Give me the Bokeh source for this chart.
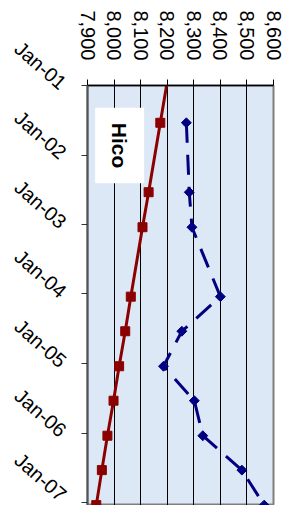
import numpy as np
import pandas as pd
from bokeh.plotting import figure
from bokeh.models import (Range1d, FixedTicker, NumeralTickFormatter,
                          DatetimeTickFormatter, Label, ColumnDataSource)
from bokeh.embed import file_html
from bokeh.resources import INLINE

# ---- data ----
dates = ["2000-07-15", "2001-07-15", "2002-07-15", "2003-01-15", "2004-01-15",
         "2004-07-15", "2005-01-15", "2005-07-15", "2006-01-15", "2006-07-15",
         "2007-01-15"]
red_series = [8218, 8174, 8130, 8107, 8063, 8042, 8019, 7998, 7975, 7954, 7933]
blue_series = [np.nan, 8272, 8283, 8293, 8400, 8255, 8186, 8302, 8334, 8481, 8565]
tick_dates = ["2001-01-01", "2002-01-01", "2003-01-01", "2004-01-01",
              "2005-01-01", "2006-01-01", "2007-01-01"]
value_ticks = [7900, 8000, 8100, 8200, 8300, 8400, 8500, 8600]
title_text = "Hico"


def to_ms(s):
    return pd.Timestamp(s).value / 1e6


src = ColumnDataSource(dict(
    t=[to_ms(d) for d in dates],
    red=red_series,
    blue=blue_series,
))

FONT = "Liberation Sans"

p = figure(width=288, height=505, output_backend="svg", toolbar_location=None,
           x_axis_location="above", y_axis_type="datetime",
           x_range=Range1d(value_ticks[0], value_ticks[-1]),
           y_range=Range1d(to_ms("2007-01-17"), to_ms("2000-12-31")),
           min_border_left=87, min_border_right=15, min_border_top=85,
           min_border_bottom=0)

p.background_fill_color = "#dce8f6"
p.border_fill_color = "white"
p.outline_line_color = "#7f7f7f"
p.outline_line_width = 2

# grid
p.xgrid.grid_line_color = "black"
p.xgrid.grid_line_width = 1
p.ygrid.grid_line_color = None

# value axis (top)
xa = p.xaxis[0]
xa.ticker = FixedTicker(ticks=value_ticks)
xa.formatter = NumeralTickFormatter(format="0,0")
xa.major_label_orientation = -np.pi / 2
xa.major_label_text_font = FONT
xa.major_label_text_font_size = "20px"
xa.major_label_text_color = "black"
xa.major_label_standoff = 19
xa.axis_line_color = "black"
xa.axis_line_width = 1.5
xa.major_tick_line_color = "black"
xa.major_tick_out = 6
xa.major_tick_in = 0
xa.minor_tick_line_color = None

# time axis (left)
ya = p.yaxis[0]
ya.ticker = FixedTicker(ticks=[to_ms(d) for d in tick_dates])
fmt = "%b-%y"
ya.formatter = DatetimeTickFormatter(years=fmt, months=fmt, days=fmt, hours=fmt,
                                     minutes=fmt, seconds=fmt, milliseconds=fmt,
                                     microseconds=fmt, minsec=fmt, hourmin=fmt)
ya.major_label_orientation = -0.72
ya.major_label_text_font = FONT
ya.major_label_text_font_size = "20px"
ya.major_label_text_color = "black"
ya.major_label_standoff = 18
ya.axis_line_color = "#555555"
ya.axis_line_width = 2
ya.major_tick_line_color = "#333333"
ya.major_tick_out = 6
ya.major_tick_in = 0
ya.minor_tick_line_color = None

# series
RED = "#8b0000"
BLUE = "#000080"
p.line("red", "t", source=src, line_color=RED, line_width=3)
p.scatter("red", "t", source=src, marker="square", size=9,
          fill_color=RED, line_color=RED)
p.line("blue", "t", source=src, line_color=BLUE, line_width=3, line_dash="20 12")
p.scatter("blue", "t", source=src, marker="square", angle=np.pi / 4, size=7,
          fill_color=BLUE, line_color=BLUE)

# title box
p.add_layout(Label(x=8021, y=to_ms("2001-11-12"), text=title_text,
                   angle=-np.pi / 2, text_align="center", text_baseline="middle",
                   text_font=FONT, text_font_style="bold", text_font_size="21px",
                   text_color="black", background_fill_color="white",
                   padding=(15, 13)))

open("out.html", "w").write(file_html(p, INLINE))
